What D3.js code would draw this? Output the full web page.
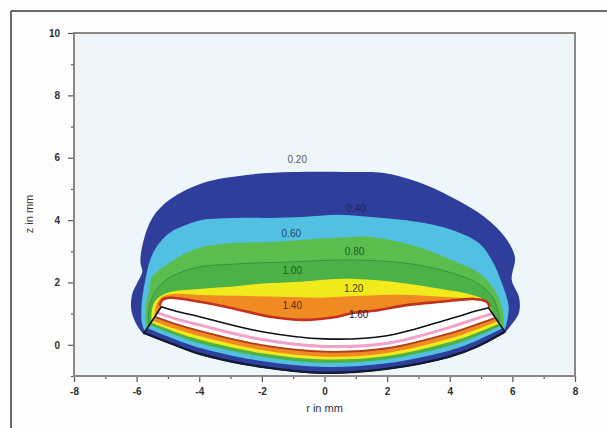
<!DOCTYPE html>
<html>
<head>
<meta charset="utf-8">
<script src="https://cdn.jsdelivr.net/npm/d3@7/dist/d3.min.js"></script>
<style>
body { margin: 0; background: #fdfdfd; }
svg { display: block; }
.tick text { font-family: "Liberation Sans", Arial, sans-serif; font-size: 10px; fill: #2e2e2e; font-weight: bold; }
.lbl { font-family: "Liberation Sans", Arial, sans-serif; font-size: 10px; }
</style>
</head>
<body>
<svg class="main" width="607" height="428"></svg>
<script>
// axis ticks
var rTicks = [-8, -6, -4, -2, 0, 2, 4, 6, 8];
var rMinor = [-7, -5, -3, -1, 1, 3, 5, 7];
var zTicks = [0, 2, 4, 6, 8, 10];
var zMinor = [-1, 1, 3, 5, 7, 9];

// contour outlines above the lens, [r, z] in mm
var blueOuter = [[-5.76,0.32],[-5.98,0.61],[-6.17,1.12],[-6.14,1.63],[-5.98,1.99],[-5.82,2.34],[-5.88,2.66],[-5.79,3.30],[-5.50,4.07],[-4.95,4.65],[-3.89,5.19],[-2.48,5.45],[-1.00,5.54],[0.84,5.54],[1.90,5.51],[2.99,5.22],[4.05,4.74],[5.11,4.10],[5.76,3.46],[6.08,2.82],[5.98,2.08],[6.21,1.54],[6.21,1.03],[5.92,0.58],[5.76,0.38]];
var cyanOuter = [[-5.69,0.35],[-5.82,0.64],[-5.85,1.12],[-5.79,1.70],[-5.69,2.24],[-5.59,2.66],[-5.37,3.14],[-4.95,3.59],[-4.41,3.85],[-3.89,4.01],[-2.80,4.07],[-1.74,4.07],[-0.68,4.10],[0.42,4.17],[1.48,4.10],[2.99,3.94],[4.05,3.69],[4.92,3.27],[5.34,2.72],[5.66,1.99],[5.88,1.22],[5.82,0.71],[5.72,0.42]];
var greenOuter = [[-5.63,0.38],[-5.72,0.80],[-5.69,1.35],[-5.59,1.76],[-5.50,2.18],[-4.95,2.63],[-4.41,2.95],[-3.89,3.14],[-2.80,3.27],[-1.74,3.30],[-0.68,3.37],[0.42,3.43],[1.48,3.46],[2.99,3.14],[4.05,2.72],[4.92,2.31],[5.43,1.76],[5.66,1.22],[5.72,0.71],[5.69,0.42]];
var green2Outer = [[-5.56,0.42],[-5.63,0.87],[-5.56,1.35],[-5.40,1.70],[-5.11,2.05],[-4.63,2.31],[-3.99,2.50],[-2.70,2.60],[-1.09,2.66],[0.51,2.72],[1.80,2.69],[2.99,2.56],[4.05,2.31],[4.86,1.99],[5.34,1.57],[5.53,1.12],[5.59,0.64],[5.59,0.42]];
var yellowOuter = [[-5.50,0.42],[-5.53,0.87],[-5.47,1.28],[-5.27,1.54],[-4.89,1.70],[-3.99,1.79],[-3.02,1.86],[-2.06,1.96],[-0.77,2.02],[0.51,2.12],[1.58,2.08],[2.67,1.96],[3.73,1.79],[4.60,1.63],[5.11,1.44],[5.34,1.12],[5.43,0.74],[5.47,0.42]];
var orangeOuter = [[-5.43,0.42],[-5.43,0.87],[-5.37,1.28],[-5.18,1.54],[-4.79,1.63],[-3.99,1.60],[-2.70,1.57],[-1.41,1.54],[-0.13,1.51],[1.16,1.57],[2.67,1.60],[3.73,1.54],[4.60,1.47],[5.18,1.28],[5.31,0.96],[5.34,0.42]];
var redLine = [[-5.27,1.25],[-5.18,1.44],[-4.95,1.51],[-3.99,1.38],[-3.02,1.19],[-1.74,0.90],[-0.68,0.80],[0.42,0.90],[0.93,1.03],[1.58,1.09],[2.67,1.28],[3.73,1.38],[4.79,1.47],[5.18,1.38],[5.27,1.22]];

// the lens
var lensTop = [[-5.21,1.22],[-4.79,1.09],[-3.99,0.90],[-1.99,0.42],[0,0.19],[1.99,0.29],[3.99,0.83],[4.86,1.09],[5.24,1.19]];
var lensBottom = [[-5.76,0.38],[-4.79,0.00],[-3.99,-0.29],[-1.99,-0.71],[0,-0.90],[1.99,-0.77],[3.99,-0.38],[4.86,-0.06],[5.76,0.42]];
var lensR = [-5.9, -4.8, -4, -2, 0, 2, 4, 4.85, 6.0];
var lensCyan = [0.64, 0.19, -0.09, -0.52, -0.71, -0.59, -0.18, 0.13, 0.69];
var lensGreen = [0.76, 0.32, 0.05, -0.38, -0.58, -0.46, -0.03, 0.27, 0.79];
var lensYellow = [0.86, 0.43, 0.17, -0.27, -0.47, -0.36, 0.09, 0.38, 0.87];
var lensOrange = [0.94, 0.52, 0.28, -0.17, -0.38, -0.26, 0.20, 0.49, 0.95];
var lensWhite = [1.08, 0.68, 0.45, -0.01, -0.22, -0.11, 0.37, 0.65, 1.06];
var lensPink = [1.23, 0.85, 0.64, 0.17, -0.05, 0.05, 0.56, 0.84, 1.20];

// contour labels
var labelText = ["0.20", "0.40", "0.60", "0.80", "1.00", "1.20", "1.40", "1.60"];
var labelR = [-0.87, 1.0, -1.06, 0.96, -1.03, 0.93, -1.03, 1.09];
var labelZ = [5.93, 4.36, 3.53, 2.98, 2.37, 1.79, 1.22, 0.93];
var labelColor = ["#5a5a5a", "#1d2760", "#1d4a5a", "#1f5a2a", "#1f5a2a", "#3a3a10", "#5a2a10", "#3a1010"];

var svg = d3.select("svg.main");
var x = d3.scaleLinear().domain([-8, 8]).range([74, 575]);
var y = d3.scaleLinear().domain([-1, 10]).range([376, 33]);

// page frame
svg.append("line").attr("x1", 11).attr("y1", 11).attr("x2", 607).attr("y2", 11)
    .attr("stroke", "#3a3a3a").attr("stroke-width", 1.5);
svg.append("line").attr("x1", 11).attr("y1", 11).attr("x2", 11).attr("y2", 428)
    .attr("stroke", "#3a3a3a").attr("stroke-width", 1.5);

svg.append("rect")
    .attr("x", x(-8)).attr("y", y(10))
    .attr("width", x(8) - x(-8)).attr("height", y(-1) - y(10))
    .attr("fill", "#eef6f9");

var smooth = d3.line()
    .x(function (d) { return x(d[0]); })
    .y(function (d) { return y(d[1]); })
    .curve(d3.curveCatmullRom);

function halo(outline) {
    var back = lensBottom.slice().reverse();
    return smooth(outline) + "L" + smooth(back).slice(1) + "Z";
}

var g = svg.append("g");

g.append("path").attr("d", halo(blueOuter)).attr("fill", "#2f3e9b");
g.append("path").attr("d", halo(cyanOuter)).attr("fill", "#52c0e2");
g.append("path").attr("d", halo(greenOuter)).attr("fill", "#5bbd4e");
g.append("path").attr("d", halo(green2Outer)).attr("fill", "#4cb247")
    .attr("stroke", "#2f8a38").attr("stroke-width", 0.8);
g.append("path").attr("d", halo(yellowOuter)).attr("fill", "#f1ea1c");
g.append("path").attr("d", halo(orangeOuter)).attr("fill", "#f08a22");

// white hole between the red contour and the lens
var hole = smooth(redLine) + "L" + smooth(lensTop.slice().reverse()).slice(1) + "Z";
g.append("path").attr("d", hole).attr("fill", "#ffffff");
g.append("path").attr("d", smooth(redLine)).attr("fill", "none")
    .attr("stroke", "#c3301f").attr("stroke-width", 2.6);

// lens body
var lensPath = smooth(lensTop) + "L" + smooth(lensBottom.slice().reverse()).slice(1) + "Z";
svg.append("clipPath").attr("id", "lensclip").append("path").attr("d", lensPath);

var lens = g.append("g").attr("clip-path", "url(#lensclip)");
lens.append("path").attr("d", lensPath).attr("fill", "#2f3e9b");

function above(vals) {
    var pts = lensR.map(function (r, i) { return [r, vals[i]]; });
    return d3.area()
        .x(function (d) { return x(d[0]); })
        .y0(y(2))
        .y1(function (d) { return y(d[1]); })
        .curve(d3.curveCatmullRom)(pts);
}
function curveOf(vals) {
    return smooth(lensR.map(function (r, i) { return [r, vals[i]]; }));
}

lens.append("path").attr("d", above(lensCyan)).attr("fill", "#52c0e2");
lens.append("path").attr("d", above(lensGreen)).attr("fill", "#4cb247");
lens.append("path").attr("d", above(lensYellow)).attr("fill", "#f1ea1c");
lens.append("path").attr("d", above(lensOrange)).attr("fill", "#f08a22");
lens.append("path").attr("d", above(lensWhite)).attr("fill", "#ffffff");
lens.append("path").attr("d", curveOf(lensWhite)).attr("fill", "none")
    .attr("stroke", "#b03d1c").attr("stroke-width", 1.8);
lens.append("path").attr("d", curveOf(lensPink)).attr("fill", "none")
    .attr("stroke", "#f2a2c9").attr("stroke-width", 3);

g.append("path").attr("d", lensPath).attr("fill", "none")
    .attr("stroke", "#101018").attr("stroke-width", 1.6);
g.append("path").attr("d", smooth(lensBottom)).attr("fill", "none")
    .attr("stroke", "#111a30").attr("stroke-width", 2.2);

// contour labels
labelText.forEach(function (t, i) {
    svg.append("text").attr("class", "lbl")
        .attr("x", x(labelR[i])).attr("y", y(labelZ[i]))
        .attr("text-anchor", "middle").attr("dominant-baseline", "middle")
        .attr("fill", labelColor[i])
        .text(t);
});

// axes
var plain = function (d) { return String(d); };
svg.append("g").attr("transform", "translate(0," + y(-1) + ")")
    .call(d3.axisBottom(x).tickValues(rTicks).tickSize(6).tickPadding(6).tickFormat(plain));
svg.append("g").attr("transform", "translate(0," + y(-1) + ")")
    .call(d3.axisBottom(x).tickValues(rMinor).tickSize(3).tickFormat(""));
svg.append("g").attr("transform", "translate(" + x(-8) + ",0)")
    .call(d3.axisLeft(y).tickValues(zTicks).tickSize(6).tickPadding(8).tickFormat(plain));
svg.append("g").attr("transform", "translate(" + x(-8) + ",0)")
    .call(d3.axisLeft(y).tickValues(zMinor).tickSize(3).tickFormat(""));
svg.selectAll(".domain").remove();
svg.selectAll(".tick line").attr("stroke", "#555").attr("stroke-width", 1.2);

svg.append("rect")
    .attr("x", x(-8)).attr("y", y(10))
    .attr("width", x(8) - x(-8)).attr("height", y(-1) - y(10))
    .attr("fill", "none").attr("stroke", "#8e8683").attr("stroke-width", 2);

svg.append("text").attr("class", "lbl")
    .attr("x", x(0)).attr("y", 412)
    .attr("text-anchor", "middle").attr("fill", "#333")
    .style("font-size", "11px")
    .text("r in mm");
svg.append("text").attr("class", "lbl")
    .attr("transform", "translate(33," + 214 + ") rotate(-90)")
    .attr("text-anchor", "middle").attr("fill", "#333")
    .style("font-size", "11px")
    .text("z in mm");
</script>
</body>
</html>
